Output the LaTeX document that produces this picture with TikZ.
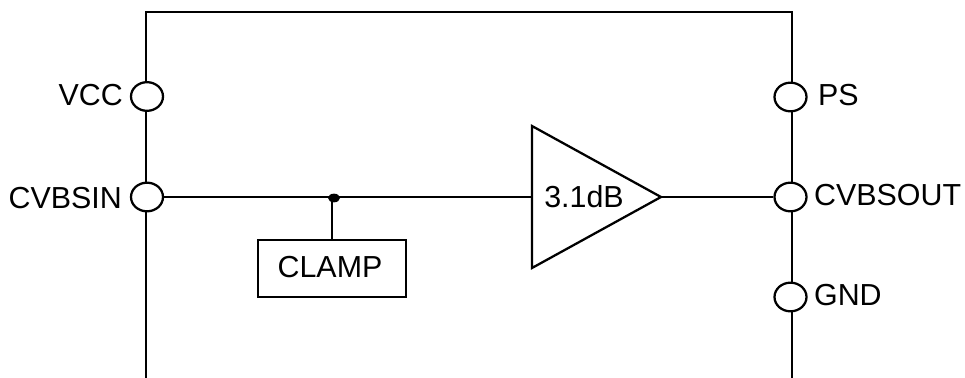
\documentclass[tikz,border=0pt]{standalone}
\usepackage{fontspec}
\setmainfont{Liberation Sans}
\usetikzlibrary{shapes.geometric}
\tikzset{
  pinpad/.style={ellipse,draw=black,fill=white,line width=1.7pt,minimum width=24pt,minimum height=21.5pt,inner sep=0pt},
  pintext/.style={inner sep=0pt,font=\fontsize{22.8}{26}\selectfont},
}
\begin{document}
\begin{tikzpicture}[y=0.75pt,x=0.75pt,yscale=-1,line width=1.7pt]
  \useasboundingbox (0,0) rectangle (965,378);
  \coordinate (bl) at (146,378);
  \coordinate (tl) at (146,12);
  \coordinate (tr) at (792,12);
  \coordinate (br) at (792,378);
  \coordinate (ampa) at (532,126);
  \coordinate (ampb) at (532,268);
  \coordinate (amptip) at (661,197);
  \coordinate (ampin) at (532,197);
  \coordinate (tap) at (332,197);
  \draw (bl) -- (tl) -- (tr) -- (br);
  \node[draw,minimum width=110.5pt,minimum height=42.5pt,inner sep=0pt] (clamp) at (332,268.5) {};
  \draw (clamp.north) -- (tap);
  \draw (ampa) -- (ampb) -- (amptip) -- cycle;
  \node[pinpad] (vcc) at (147,96.5) {};
  \node[pinpad] (in) at (147,197) {};
  \node[pinpad] (ps) at (790.5,97) {};
  \node[pinpad] (out) at (790.5,197) {};
  \node[pinpad] (gnd) at (790.5,297) {};
  \draw (in) -- (ampin);
  \draw (amptip) -- (out);
  \node[ellipse,fill=black,minimum width=9pt,minimum height=6.5pt,inner sep=0pt] (dot) at (334,198) {};
  \node[pintext,anchor=east] (vcctext) at (124,95) {VCC};
  \node[pintext,anchor=east] (intext) at (123,198) {CVBSIN};
  \node[pintext,anchor=west] (pstext) at (817,95) {PS};
  \node[pintext,anchor=west] (outtext) at (813,195) {CVBSOUT};
  \node[pintext,anchor=west] (gndtext) at (813,295) {GND};
  \node[pintext] (ampgain) at (584,197) {3.1dB};
  \node[pintext] (clamptext) at (330,267) {CLAMP};
\end{tikzpicture}
\end{document}
